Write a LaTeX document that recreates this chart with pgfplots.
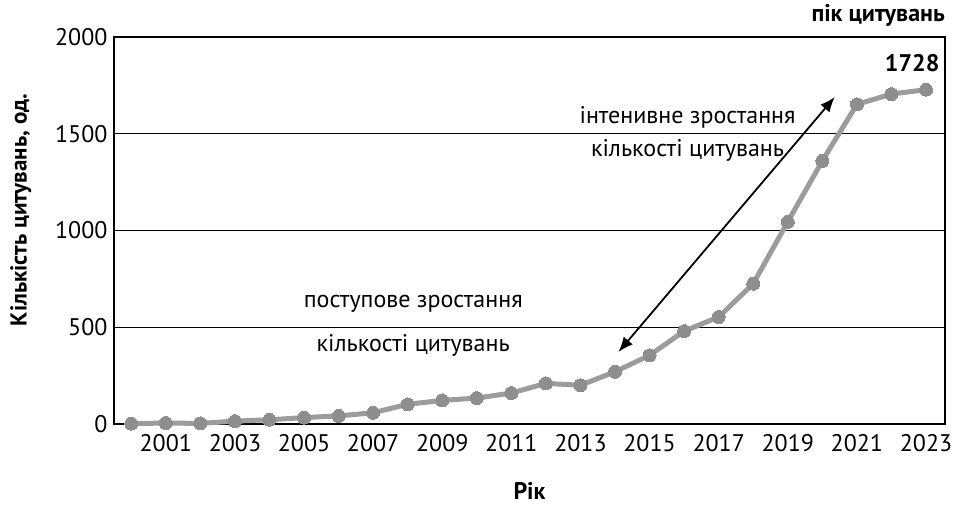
\documentclass[border=0pt]{standalone}
\usepackage{pgfplots}
\pgfplotsset{compat=1.18}
\usepackage{fontspec}
\setmainfont{PT Sans}
\usetikzlibrary{arrows.meta}
\definecolor{linegray}{HTML}{9C9C9C}
\definecolor{markgray}{HTML}{8E8E8E}
\pgfplotstableread{
year val
2000 2
2001 5
2002 3
2003 15
2004 22
2005 33
2006 42
2007 58
2008 102
2009 122
2010 134
2011 160
2012 210
2013 200
2014 270
2015 355
2016 480
2017 553
2018 725
2019 1045
2020 1360
2021 1652
2022 1705
2023 1728
}\citedata
\newcommand{\fs}{\fontsize{24}{28}\selectfont}
\begin{document}
\begin{tikzpicture}[font=\fs]
\useasboundingbox (-114pt,-82pt) rectangle (841pt,424pt);
\begin{axis}[
  at={(0,0)}, anchor=south west,
  scale only axis, width=831pt, height=387pt,
  xmin=1999.5, xmax=2023.55, ymin=0, ymax=2000,
  xtick={2001,2003,...,2023}, ytick={0,500,...,2000},
  ymajorgrids, grid style={black, line width=0.8pt},
  major tick length=0pt,
  axis line style={line width=1.5pt},
  /pgf/number format/1000 sep={},
  /pgf/number format/assume math mode=true,
  tick label style={font=\fs},
  x tick label style={yshift=-7pt},
  y tick label style={xshift=-3pt},
  xlabel={Рік}, ylabel={Кількість цитувань, од.},
  every axis y label/.style={at={(axis description cs:-0.112,0.553)}, rotate=90, anchor=center, font=\fontsize{23}{28}\selectfont\bfseries},
  every axis x label/.style={at={(axis description cs:0.5,-0.173)}, anchor=center, font=\fs\bfseries},
  clip=false,
]
\addplot[color=linegray, line width=5pt, mark=*, mark size=6.5pt,
  mark options={fill=markgray, draw=markgray, line width=0pt}] table[x=year,y=val] {\citedata};
\draw[{Latex[length=15pt,width=12pt]}-{Latex[length=15pt,width=12pt]}, line width=1.8pt]
  (axis cs:2014.1,372) -- (axis cs:2020.36,1690);
\node at (axis cs:2016.1,1587) {інтенивне зростання};
\node at (axis cs:2016.1,1416) {кількості цитувань};
\node at (axis cs:2008.16,620) {поступове зростання};
\node at (axis cs:2008.16,408) {кількості цитувань};
\node[font=\fs\bfseries] at (axis cs:2022.6,1866) {1728};
\node[font=\fs\bfseries, anchor=east, inner sep=0pt] at ([yshift=22pt]rel axis cs:1,1) {пік цитувань};
\end{axis}
\end{tikzpicture}
\end{document}
